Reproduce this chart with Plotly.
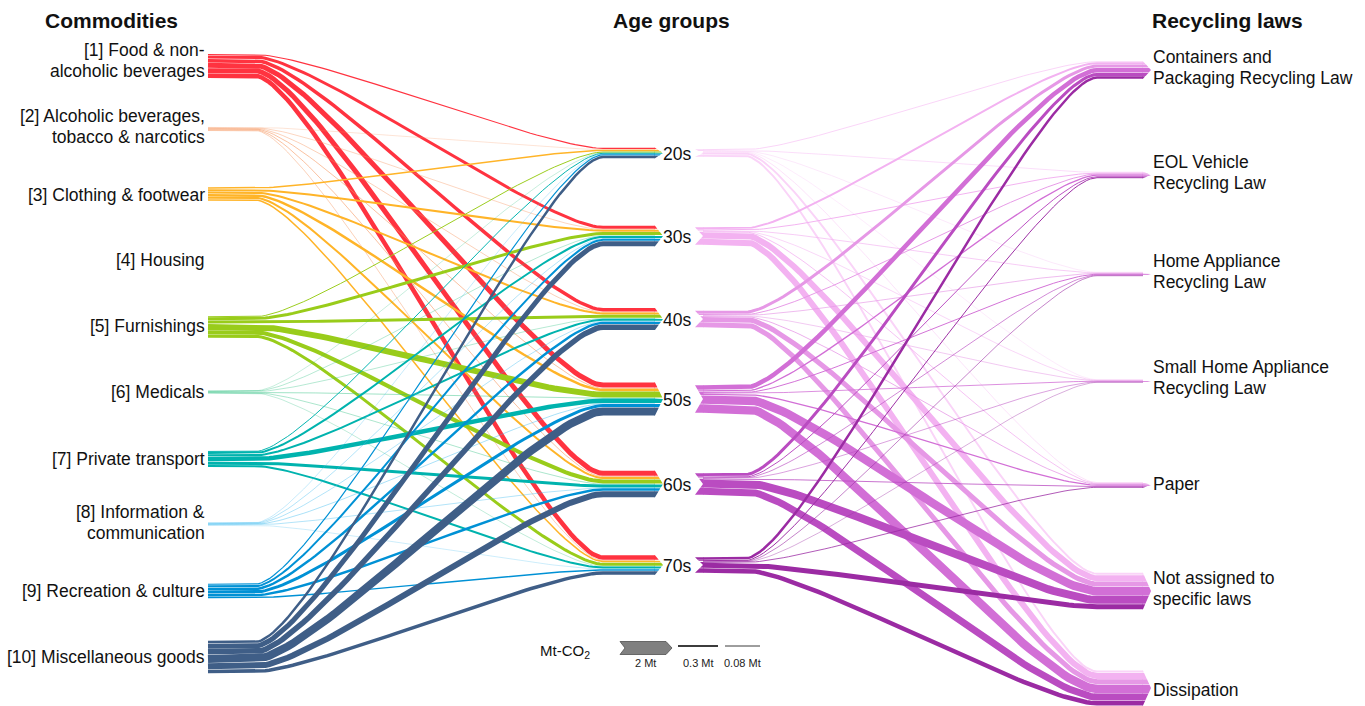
import numpy as np
import plotly.graph_objects as go

# ---------------------------------------------------------------- data
commodities = [
    "[1] Food & non-<br>alcoholic beverages",
    "[2] Alcoholic beverages,<br>tobacco & narcotics",
    "[3] Clothing & footwear",
    "[4] Housing",
    "[5] Furnishings",
    "[6] Medicals",
    "[7] Private transport",
    "[8] Information &<br>communication",
    "[9] Recreation & culture",
    "[10] Miscellaneous goods",
]
age_groups = ["20s", "30s", "40s", "50s", "60s", "70s"]
laws = [
    "Containers and<br>Packaging Recycling Law",
    "EOL Vehicle<br>Recycling Law",
    "Home Appliance<br>Recycling Law",
    "Small Home Appliance<br>Recycling Law",
    "Paper",
    "Not assigned to<br>specific laws",
    "Dissipation",
]

# Mt-CO2, rows = commodities, columns = age groups
commodity_age = [
    [0.18, 0.46, 0.54, 0.77, 0.77, 0.69],
    [0.05, 0.08, 0.09, 0.12, 0.12, 0.09],
    [0.23, 0.31, 0.31, 0.38, 0.31, 0.23],
    [0.00, 0.00, 0.00, 0.00, 0.00, 0.00],
    [0.15, 0.46, 0.46, 0.92, 0.62, 0.46],
    [0.05, 0.07, 0.07, 0.09, 0.08, 0.06],
    [0.15, 0.31, 0.31, 0.69, 0.46, 0.31],
    [0.06, 0.08, 0.08, 0.09, 0.08, 0.05],
    [0.18, 0.31, 0.38, 0.46, 0.38, 0.23],
    [0.38, 0.77, 0.85, 1.23, 0.92, 0.54],
]

# Mt-CO2, rows = age groups, columns = recycling laws
age_law = [
    [0.15, 0.12, 0.08, 0.07, 0.10, 0.30, 0.30],
    [0.30, 0.15, 0.10, 0.08, 0.12, 0.92, 0.92],
    [0.46, 0.15, 0.10, 0.08, 0.12, 0.77, 0.77],
    [0.70, 0.20, 0.15, 0.12, 0.20, 1.30, 1.30],
    [0.46, 0.15, 0.10, 0.08, 0.12, 1.23, 1.08],
    [0.38, 0.15, 0.09, 0.06, 0.12, 0.77, 0.69],
]

scale_values = [2, 0.3, 0.08]
scale_labels = ["2 Mt", "0.3 Mt", "0.08 Mt"]

# ---------------------------------------------------------------- styling / layout
commodity_colors = [
    "rgb(255,51,64)", "rgba(246,150,95,0.75)", "rgb(255,180,40)", "rgb(200,200,200)",
    "rgb(153,204,26)", "rgba(40,190,125,0.75)", "rgb(0,179,174)",
    "rgba(60,185,240,0.75)", "rgb(0,145,213)", "rgb(63,94,135)",
]
age_colors = [
    "rgb(250,212,248)", "rgb(243,178,241)", "rgb(230,152,230)",
    "rgb(210,111,214)", "rgb(186,76,193)", "rgb(155,43,163)",
]

PX_PER_MT = 6.5
GAP = 0.4
FONT = "Liberation Sans, Arial, sans-serif"

left_y = [66, 129, 194, 260, 327, 392, 459, 524, 591, 657]
left_label_y = [60, 126, 195, 260, 326, 392, 459, 522, 591, 657]
mid_y = [153, 236, 319, 399, 484, 565]
right_y = [70, 175, 274, 381, 485, 591, 688]
right_label_y = [67, 172, 271, 377, 484, 588, 690]

X_LEFT0, X_LEFT1 = 208, 255          # commodity stub
X_MID_IN0, X_MID_IN1 = 603, 655      # incoming stub at age groups
X_MID_OUT0, X_MID_OUT1 = 695, 745    # outgoing stub at age groups
X_RIGHT0, X_RIGHT1 = 1097, 1143      # incoming stub at recycling laws
TIP = 8
NOTCH = 8
BEND = 0.17

ca = np.array(commodity_age, dtype=float)
al = np.array(age_law, dtype=float)


def widths(v):
    return np.where(v > 0, np.maximum(v * PX_PER_MT, 0.35), 0.0)


def stack(ws, center):
    """Centre of each band when the widths are stacked around a node centre."""
    idx = [i for i, w in enumerate(ws) if w > 0]
    gaps = [GAP if ws[i] >= 1 else 0.0 for i in idx[:-1]]
    total = sum(ws[i] for i in idx) + sum(gaps)
    y = center - total / 2
    out = np.zeros_like(ws)
    for n, i in enumerate(idx):
        out[i] = y + ws[i] / 2
        y += ws[i] + (gaps[n] if n < len(gaps) else 0)
    return out, total


def bezier(x0, y0, x1, y1, n=60):
    k = BEND * (x1 - x0)
    t = np.linspace(0, 1, n)
    bx = (1 - t) ** 3 * x0 + 3 * (1 - t) ** 2 * t * (x0 + k) + 3 * (1 - t) * t ** 2 * (x1 - k) + t ** 3 * x1
    by = (1 - t) ** 3 * y0 + 3 * (1 - t) ** 2 * t * y0 + 3 * (1 - t) * t ** 2 * y1 + t ** 3 * y1
    return bx, by


def tip_poly(a, b, yc, half, xe, depth, inward=False):
    """Polygon for one band of an arrow tip (or notch when inward)."""
    def f(y):
        return depth * max(0.0, 1 - abs(y - yc) / half) if half > 0 else 0
    if not inward:
        pts = [(xe - 0.5, a), (xe + f(a), a)]
        if a < yc < b:
            pts.append((xe + depth, yc))
        pts += [(xe + f(b), b), (xe - 0.5, b)]
    else:
        pts = [(xe + f(a), a), (xe + depth + 0.5, a), (xe + depth + 0.5, b), (xe + f(b), b)]
        if a < yc < b:
            pts.append((xe + depth, yc))
    xs = [p[0] for p in pts] + [pts[0][0], None]
    ys = [p[1] for p in pts] + [pts[0][1], None]
    return xs, ys


fig = go.Figure()

# ---------------------------------------------------------------- commodity -> age group
w_ca = widths(ca)
src_c = [stack(w_ca[i, :], left_y[i])[0] for i in range(len(commodities))]
tgt_c = []
mid_in_tot = []
for j in range(len(age_groups)):
    c, tot = stack(w_ca[:, j], mid_y[j])
    tgt_c.append(c)
    mid_in_tot.append(tot)

tips = {i: ([], []) for i in range(len(commodities))}
for i in range(len(commodities)):
    for j in range(len(age_groups)):
        w = w_ca[i, j]
        if w <= 0:
            continue
        y0, y1 = src_c[i][j], tgt_c[j][i]
        bx, by = bezier(X_LEFT1, y0, X_MID_IN0, y1)
        xs = np.concatenate([[X_LEFT0], bx, [X_MID_IN1]])
        ys = np.concatenate([[y0], by, [y1]])
        fig.add_trace(go.Scatter(x=xs, y=ys, mode="lines",
                                 line=dict(color=commodity_colors[i], width=w),
                                 hoverinfo="skip", showlegend=False))
        px, py = tip_poly(y1 - w / 2, y1 + w / 2, mid_y[j], mid_in_tot[j] / 2, X_MID_IN1, TIP)
        tips[i][0].extend(px)
        tips[i][1].extend(py)

for i, (px, py) in tips.items():
    if px:
        fig.add_trace(go.Scatter(x=px, y=py, mode="lines", fill="toself",
                                 fillcolor=commodity_colors[i], line=dict(width=0),
                                 hoverinfo="skip", showlegend=False))

# ---------------------------------------------------------------- age group -> recycling law
w_al = widths(al)
src_a = []
mid_out_tot = []
for j in range(len(age_groups)):
    c, tot = stack(w_al[j, :], mid_y[j])
    src_a.append(c)
    mid_out_tot.append(tot)
tgt_l = []
right_tot = []
for k in range(len(laws)):
    c, tot = stack(w_al[:, k], right_y[k])
    tgt_l.append(c)
    right_tot.append(tot)

polys = {j: ([], []) for j in range(len(age_groups))}
for j in range(len(age_groups)):
    for k in range(len(laws)):
        w = w_al[j, k]
        if w <= 0:
            continue
        y0, y1 = src_a[j][k], tgt_l[k][j]
        bx, by = bezier(X_MID_OUT1, y0, X_RIGHT0, y1)
        xs = np.concatenate([[X_MID_OUT0 + NOTCH], bx, [X_RIGHT1]])
        ys = np.concatenate([[y0], by, [y1]])
        fig.add_trace(go.Scatter(x=xs, y=ys, mode="lines",
                                 line=dict(color=age_colors[j], width=w),
                                 hoverinfo="skip", showlegend=False))
        px, py = tip_poly(y0 - w / 2, y0 + w / 2, mid_y[j], mid_out_tot[j] / 2,
                          X_MID_OUT0, NOTCH, inward=True)
        polys[j][0].extend(px)
        polys[j][1].extend(py)
        px, py = tip_poly(y1 - w / 2, y1 + w / 2, right_y[k], right_tot[k] / 2, X_RIGHT1, TIP)
        polys[j][0].extend(px)
        polys[j][1].extend(py)

for j, (px, py) in polys.items():
    fig.add_trace(go.Scatter(x=px, y=py, mode="lines", fill="toself",
                             fillcolor=age_colors[j], line=dict(width=0),
                             hoverinfo="skip", showlegend=False))

# ---------------------------------------------------------------- scale legend
sv = np.array(scale_values, dtype=float)
h2 = sv[0] * PX_PER_MT
ly = 648
ax0, ax1 = 620, 666
fig.add_trace(go.Scatter(
    x=[ax0, ax1, ax1 + 6, ax1, ax0, ax0 + 5, ax0],
    y=[ly - h2 / 2, ly - h2 / 2, ly, ly + h2 / 2, ly + h2 / 2, ly, ly - h2 / 2],
    mode="lines", fill="toself", fillcolor="rgb(128,128,128)",
    line=dict(color="rgb(80,80,80)", width=0.8), hoverinfo="skip", showlegend=False))
seg_x = [(678, 718), (725, 760)]
for (xa, xb), v in zip(seg_x, sv[1:]):
    fig.add_trace(go.Scatter(x=[xa, xb], y=[ly - 2, ly - 2], mode="lines",
                             line=dict(color="rgb(60,60,60)", width=max(v * PX_PER_MT, 1.0)),
                             hoverinfo="skip", showlegend=False))

annotations = []


def label(text, x, y, xanchor, size=17.5, bold=False, color="#111"):
    lines = text.split("<br>")
    n = len(lines)
    step = 21
    for idx, ln in enumerate(lines):
        yy = y + (idx - (n - 1) / 2) * step
        annotations.append(dict(
            x=x, y=yy, xref="x", yref="y", text=f"<b>{ln}</b>" if bold else ln,
            showarrow=False, xanchor=xanchor, yanchor="middle",
            font=dict(family=FONT, size=size, color=color)))


for name, y in zip(commodities, left_label_y):
    label(name, 207, y, "right")
for name, y in zip(age_groups, mid_y):
    label(name, 677, y + 1, "center", size=17.5)
for name, y in zip(laws, right_label_y):
    label(name, 1151, y, "left")

label("Commodities", 111, 20, "center", size=21, bold=True)
label("Age groups", 671, 20, "center", size=21, bold=True)
label("Recycling laws", 1150, 20, "left", size=21, bold=True)

annotations.append(dict(x=565, y=651, xref="x", yref="y", text="Mt-CO<sub>2</sub>",
                        showarrow=False, font=dict(family=FONT, size=15, color="#111")))
for x, t in zip([645, 698, 742], scale_labels):
    annotations.append(dict(x=x, y=663, xref="x", yref="y", text=t, showarrow=False,
                            font=dict(family=FONT, size=11, color="#222")))

fig.update_layout(
    width=1365, height=706,
    margin=dict(l=0, r=0, t=0, b=0),
    paper_bgcolor="white", plot_bgcolor="white",
    xaxis=dict(range=[0, 1365], visible=False, fixedrange=True),
    yaxis=dict(range=[706, 0], visible=False, fixedrange=True),
    annotations=annotations,
    showlegend=False,
)

fig.write_html("out.html")
